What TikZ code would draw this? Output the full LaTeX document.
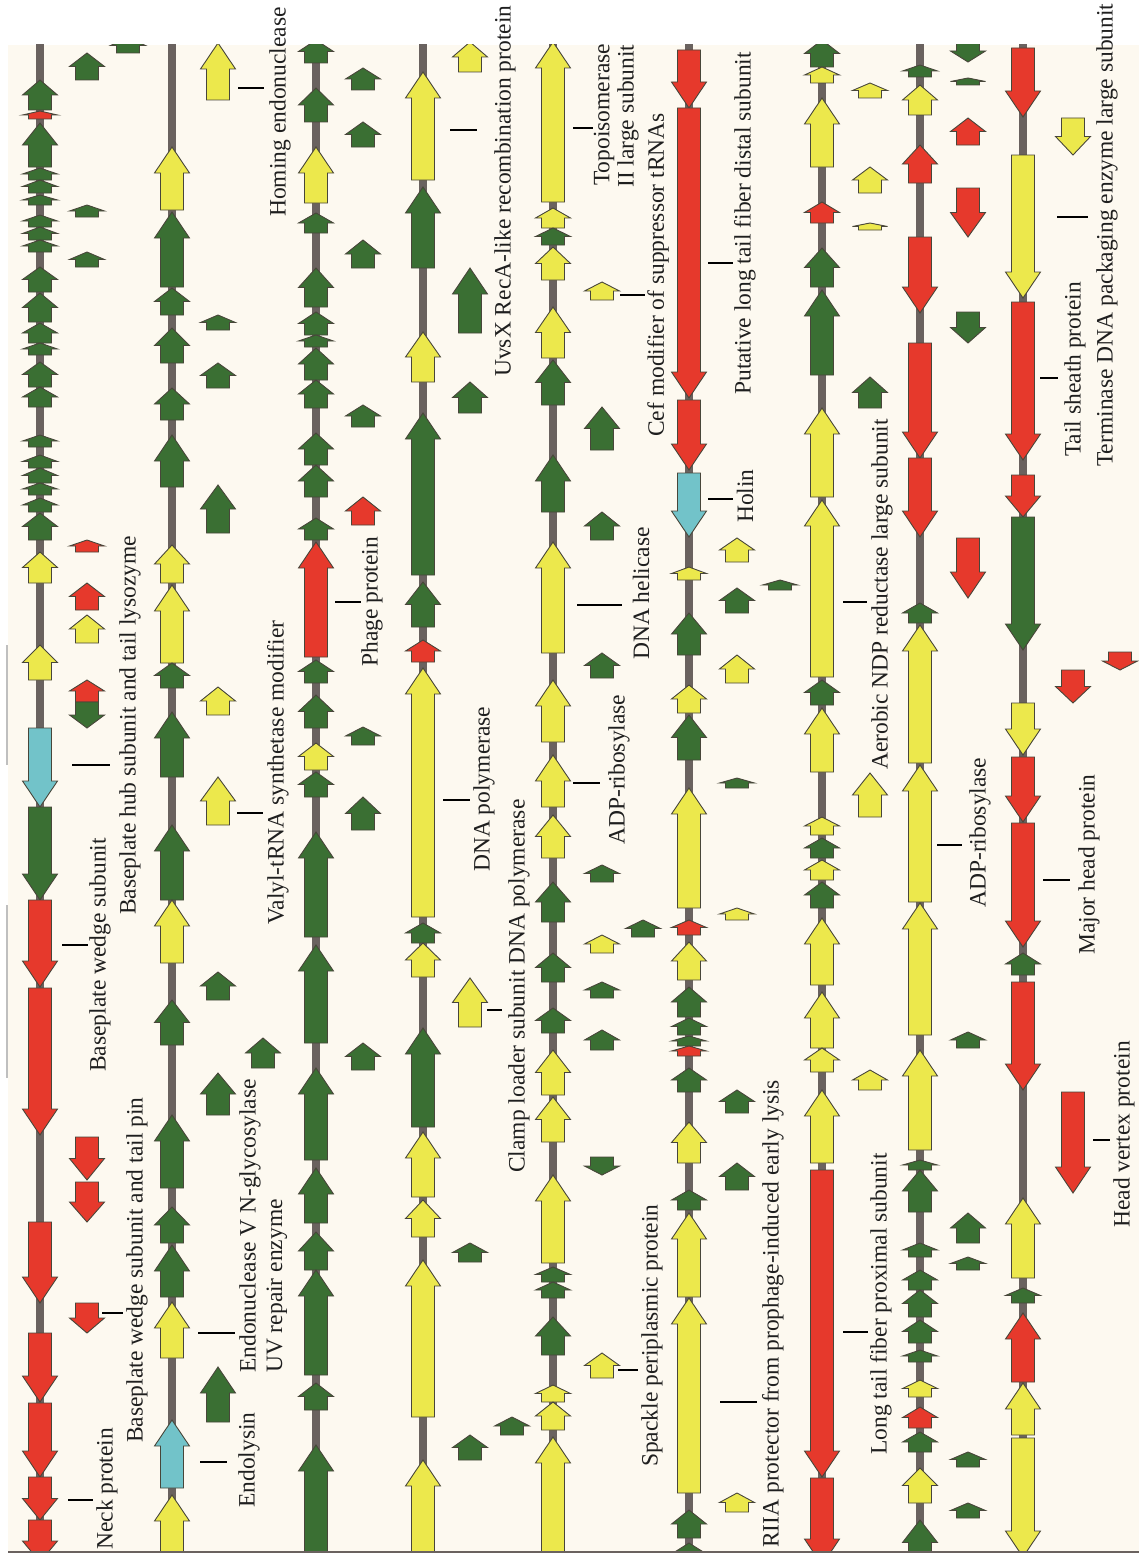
\documentclass[tikz,border=0pt]{standalone}
\usepackage{fontspec}
\setmainfont{Liberation Serif}
\definecolor{gG}{RGB}{58,111,51}
\definecolor{gY}{RGB}{236,232,76}
\definecolor{gR}{RGB}{230,57,44}
\definecolor{gC}{RGB}{114,195,201}
\definecolor{trackgrey}{RGB}{106,98,95}
\definecolor{edgegrey}{RGB}{72,70,58}
\definecolor{cream}{RGB}{253,249,240}

% 基因箭头: x, 尾端 y, 尖端 y, 颜色
\newcommand{\gene}[4]{%
  \pgfmathsetmacro{\gnLen}{#3-(#2)}%
  \pgfmathsetmacro{\gnHead}{min(26,0.5*abs(\gnLen))*sign(\gnLen)}%
  \pgfmathsetmacro{\gnBase}{#3-\gnHead}%
  \filldraw[gene,fill=#4] (#1-11.5,#2) -- (#1-11.5,\gnBase) -- (#1-17.5,\gnBase)
    -- (#1,#3) -- (#1+17.5,\gnBase) -- (#1+11.5,\gnBase) -- (#1+11.5,#2) -- cycle;}

\begin{document}
\begin{tikzpicture}[
    x=1pt, y=-1pt,
    gene/.style={draw=edgegrey, line width=0.9pt, line join=miter},
    track/.style={draw=trackgrey, line width=8pt},
    tick/.style={draw=black, line width=1.8pt},
    lbl/.style={rotate=90, anchor=west, inner sep=0pt, text=black!88,
                font=\fontsize{23.5}{26}\selectfont}
]
    \useasboundingbox (0,0) rectangle (1139,1560);
    \fill[cream] (8,45) rectangle (1139,1552);
    \draw[black!25, line width=1.2pt] (7,645) -- (7,765);
    \draw[black!25, line width=1.2pt] (7,905) -- (7,1078);

    \begin{scope}
    \clip (8,45) rectangle (1139,1552);
    % 基因组轨道
    \foreach \tx in {40,172,316,423,553,689,822,920,1023}
        \draw[track] (\tx,40) -- (\tx,1560);

    % 1. 第一行
    \foreach \t/\h/\c in {110/80/gG, 119/111/gR, 167/123/gG, 180/168/gG, 193/180/gG,
        205/195/gG, 227/215/gG, 240/227/gG, 252/240/gG, 292/267/gG, 322/293/gG,
        343/323/gG, 355/343/gG, 387/362/gG, 407/387/gG, 447/435/gG, 468/455/gG,
        483/468/gG, 495/483/gG, 512/498/gG, 540/513/gG, 583/552/gY, 680/645/gY,
        728/807/gC, 807/900/gG, 900/987/gR, 988/1135/gR, 1222/1303/gR,
        1333/1402/gR, 1403/1477/gR, 1477/1520/gR, 1520/1562/gR}
        \gene{40}{\t}{\h}{\c};
    \foreach \t/\h/\c in {80/53/gG, 217/205/gG, 267/252/gG, 552/540/gR, 610/583/gR,
        643/615/gY, 702/680/gR, 702/728/gG, 1137/1180/gR, 1182/1222/gR, 1303/1333/gR}
        \gene{87}{\t}{\h}{\c};
    \gene{128}{53}{38}{gG};

    % 2. 第二行
    \foreach \t/\h/\c in {210/147/gY, 287/212/gG, 315/288/gG, 363/328/gG, 420/388/gG,
        487/435/gG, 583/545/gY, 663/585/gY, 688/663/gG, 777/712/gG, 900/825/gG,
        963/900/gY, 1045/1000/gG, 1188/1115/gG, 1243/1207/gG, 1297/1245/gG,
        1358/1302/gY, 1488/1420/gC, 1565/1495/gY}
        \gene{172}{\t}{\h}{\c};
    \foreach \t/\h/\c in {100/43/gY, 330/315/gG, 388/363/gG, 533/485/gG, 715/687/gY,
        825/777/gY, 1000/972/gG, 1115/1073/gG, 1422/1367/gG}
        \gene{218}{\t}{\h}{\c};
    \gene{263}{1068}{1038}{gG};

    % 3. 第三行
    \foreach \t/\h/\c in {63/40/gG, 122/88/gG, 203/147/gY, 233/213/gG, 307/268/gG,
        335/312/gG, 347/335/gG, 380/348/gG, 408/380/gG, 465/433/gG, 497/465/gG,
        540/518/gG, 657/542/gR, 683/660/gG, 728/695/gG, 770/743/gY, 797/772/gG,
        937/832/gG, 1043/945/gG, 1160/1068/gG, 1223/1168/gG, 1270/1232/gG,
        1375/1270/gG, 1410/1383/gG, 1565/1445/gG}
        \gene{316}{\t}{\h}{\c};
    \foreach \t/\h/\c in {90/68/gG, 147/122/gG, 268/240/gG, 427/405/gG, 525/497/gR,
        745/727/gG, 830/797/gG, 1070/1043/gG}
        \gene{363}{\t}{\h}{\c};

    % 4. 第四行
    \foreach \t/\h/\c in {180/72/gY, 268/187/gG, 382/332/gY, 575/413/gG, 627/582/gG,
        662/640/gR, 917/668/gY, 943/923/gG, 977/943/gY, 1127/1028/gG,
        1197/1132/gY, 1237/1200/gY, 1417/1260/gY, 1565/1460/gY}
        \gene{423}{\t}{\h}{\c};
    \foreach \t/\h/\c in {72/42/gY, 333/268/gG, 413/382/gG, 1027/978/gY,
        1262/1243/gG, 1460/1435/gG}
        \gene{470}{\t}{\h}{\c};
    \gene{512}{1435}{1417}{gG};

    % 5. 第五行
    \foreach \t/\h/\c in {202/42/gY, 228/208/gY, 245/228/gG, 280/247/gY, 358/307/gY,
        405/360/gG, 512/455/gG, 653/542/gY, 742/680/gY, 807/755/gY, 858/815/gY,
        922/882/gG, 982/953/gG, 1033/1008/gG, 1095/1050/gY, 1142/1097/gY,
        1263/1175/gY, 1282/1267/gG, 1298/1282/gG, 1355/1317/gG, 1402/1385/gY,
        1430/1402/gY, 1565/1437/gY}
        \gene{553}{\t}{\h}{\c};
    \foreach \t/\h/\c in {300/282/gY, 450/407/gG, 540/512/gG, 678/653/gG, 882/865/gG,
        953/935/gY, 998/982/gG, 1050/1030/gG, 1157/1175/gG, 1378/1353/gY}
        \gene{602}{\t}{\h}{\c};
    \gene{643}{937}{920}{gG};

    % 6. 第六行
    \foreach \t/\h/\c in {50/108/gR, 108/398/gR, 400/470/gR, 473/537/gC, 580/567/gY,
        655/613/gG, 713/685/gY, 760/715/gG, 908/788/gY, 935/920/gR, 980/942/gY,
        1017/987/gG, 1035/1018/gG, 1046/1036/gG, 1056/1046/gR, 1092/1068/gG,
        1163/1122/gY, 1210/1190/gG, 1297/1213/gY, 1493/1298/gY, 1538/1510/gG,
        1565/1543/gG}
        \gene{689}{\t}{\h}{\c};
    \foreach \t/\h/\c in {562/538/gY, 613/588/gG, 683/655/gY, 788/778/gG, 920/908/gY,
        1113/1090/gG, 1190/1163/gG, 1512/1493/gY}
        \gene{737}{\t}{\h}{\c};
    \gene{780}{590}{580}{gG};

    % 7. 第七行
    \foreach \t/\h/\c in {67/40/gG, 83/67/gY, 167/98/gY, 223/202/gR, 287/248/gG,
        375/290/gG, 497/408/gY, 677/500/gY, 705/680/gG, 772/708/gY, 835/817/gY,
        858/838/gG, 880/860/gY, 908/882/gG, 985/918/gY, 1048/992/gY, 1072/1048/gY,
        1163/1090/gY, 1170/1477/gR, 1478/1565/gR}
        \gene{822}{\t}{\h}{\c};
    \foreach \t/\h/\c in {98/83/gY, 193/167/gY, 230/223/gY, 408/377/gG, 817/773/gY,
        1090/1070/gY}
        \gene{870}{\t}{\h}{\c};

    % 8. 第八行
    \foreach \t/\h/\c in {77/65/gG, 115/85/gY, 183/145/gR, 237/313/gR, 343/458/gR,
        458/537/gR, 623/603/gG, 763/625/gY, 902/765/gY, 1035/903/gY, 1150/1050/gY,
        1170/1160/gG, 1212/1170/gG, 1257/1243/gG, 1290/1270/gG, 1317/1290/gG,
        1343/1320/gG, 1362/1350/gG, 1397/1380/gY, 1428/1407/gR, 1452/1432/gG,
        1503/1468/gY, 1565/1520/gG}
        \gene{920}{\t}{\h}{\c};
    \foreach \t/\h/\c in {40/62/gG, 85/78/gG, 145/118/gR, 188/237/gR, 312/343/gG,
        538/598/gR, 1048/1032/gG, 1243/1213/gG, 1270/1257/gG, 1467/1452/gG,
        1518/1503/gG}
        \gene{968}{\t}{\h}{\c};

    % 9. 第九行
    \foreach \t/\h/\c in {48/117/gR, 155/298/gY, 302/460/gR, 475/517/gR, 517/650/gG,
        703/755/gY, 757/822/gR, 823/947/gR, 975/953/gG, 982/1090/gR,
        1278/1198/gY, 1303/1288/gG, 1382/1313/gR, 1435/1383/gY, 1438/1557/gY}
        \gene{1023}{\t}{\h}{\c};
    \foreach \t/\h/\c in {118/155/gY, 670/703/gR, 1092/1193/gR}
        \gene{1073}{\t}{\h}{\c};
    \gene{1120}{652}{670}{gR};
    \end{scope}
    \draw[trackgrey, line width=1.5pt] (8,1552) -- (1139,1552);

    % 标注短线
    \foreach \xa/\xb/\ty in {68/93/1500, 62/88/945, 72/110/765, 102/123/1313,
        238/264/88, 237/263/813, 198/235/1333, 200/227/1462, 335/361/602,
        450/477/130, 443/470/800, 487/502/1010, 573/593/128, 620/645/295,
        708/733/263, 708/733/499, 577/622/605, 573/600/783, 618/638/1370,
        720/757/1402, 843/867/602, 843/868/1332, 937/962/845, 1040/1058/378,
        1057/1088/217, 1043/1070/880, 1093/1110/1140}
        \draw[tick] (\xa,\ty) -- (\xb,\ty);

    % 基因名称
    \node[lbl] (neck)     at (107,1550) {Neck protein};
    \node[lbl] (bpwedge)  at (100,1072) {Baseplate wedge subunit};
    \node[lbl] (bphub)    at (130,915)  {Baseplate hub subunit and tail lysozyme};
    \node[lbl] (bppin)    at (137,1443) {Baseplate wedge subunit and tail pin};
    \node[lbl] (homing)   at (280,217)  {Homing endonuclease};
    \node[lbl] (valyl)    at (278,925)  {Valyl-tRNA synthetase modifier};
    \node[lbl] (endoV)    at (250,1373) {Endonuclease V N-glycosylase};
    \node[lbl] (uvrep)    at (277,1373) {UV repair enzyme};
    \node[lbl] (endolys)  at (249,1508) {Endolysin};
    \node[lbl] (phage)    at (372,667)  {Phage protein};
    \node[lbl] (uvsx)     at (505,377)  {UvsX RecA-like recombination protein};
    \node[lbl] (dnapol)   at (484,872)  {DNA polymerase};
    \node[lbl] (clamp)    at (519,1173) {Clamp loader subunit DNA polymerase};
    \node[lbl] (topoA)    at (604,186)  {Topoisomerase};
    \node[lbl] (topoB)    at (628,188)  {II large subunit};
    \node[lbl] (cef)      at (658,437)  {Cef modifier of suppressor tRNAs};
    \node[lbl] (distal)   at (745,395)  {Putative long tail fiber distal subunit};
    \node[lbl] (holin)    at (745,523)  {Holin};
    \node[lbl] (helicase) at (641,660)  {DNA helicase};
    \node[lbl] (adpA)     at (619,845)  {ADP-ribosylase};
    \node[lbl] (spackle)  at (652,1467) {Spackle periplasmic protein};
    \node[lbl] (riia)     at (773,1548) {RIIA protector from prophage-induced early lysis};
    \node[lbl] (ndp)      at (882,770)  {Aerobic NDP reductase large subunit};
    \node[lbl] (proximal) at (881,1455) {Long tail fiber proximal subunit};
    \node[lbl] (adpB)     at (980,908)  {ADP-ribosylase};
    \node[lbl] (sheath)   at (1075,457) {Tail sheath protein};
    \node[lbl] (terminase) at (1107,467) {Terminase DNA packaging enzyme large subunit};
    \node[lbl] (majorhead) at (1089,955) {Major head protein};
    \node[lbl] (vertex)   at (1124,1228) {Head vertex protein};
\end{tikzpicture}
\end{document}
